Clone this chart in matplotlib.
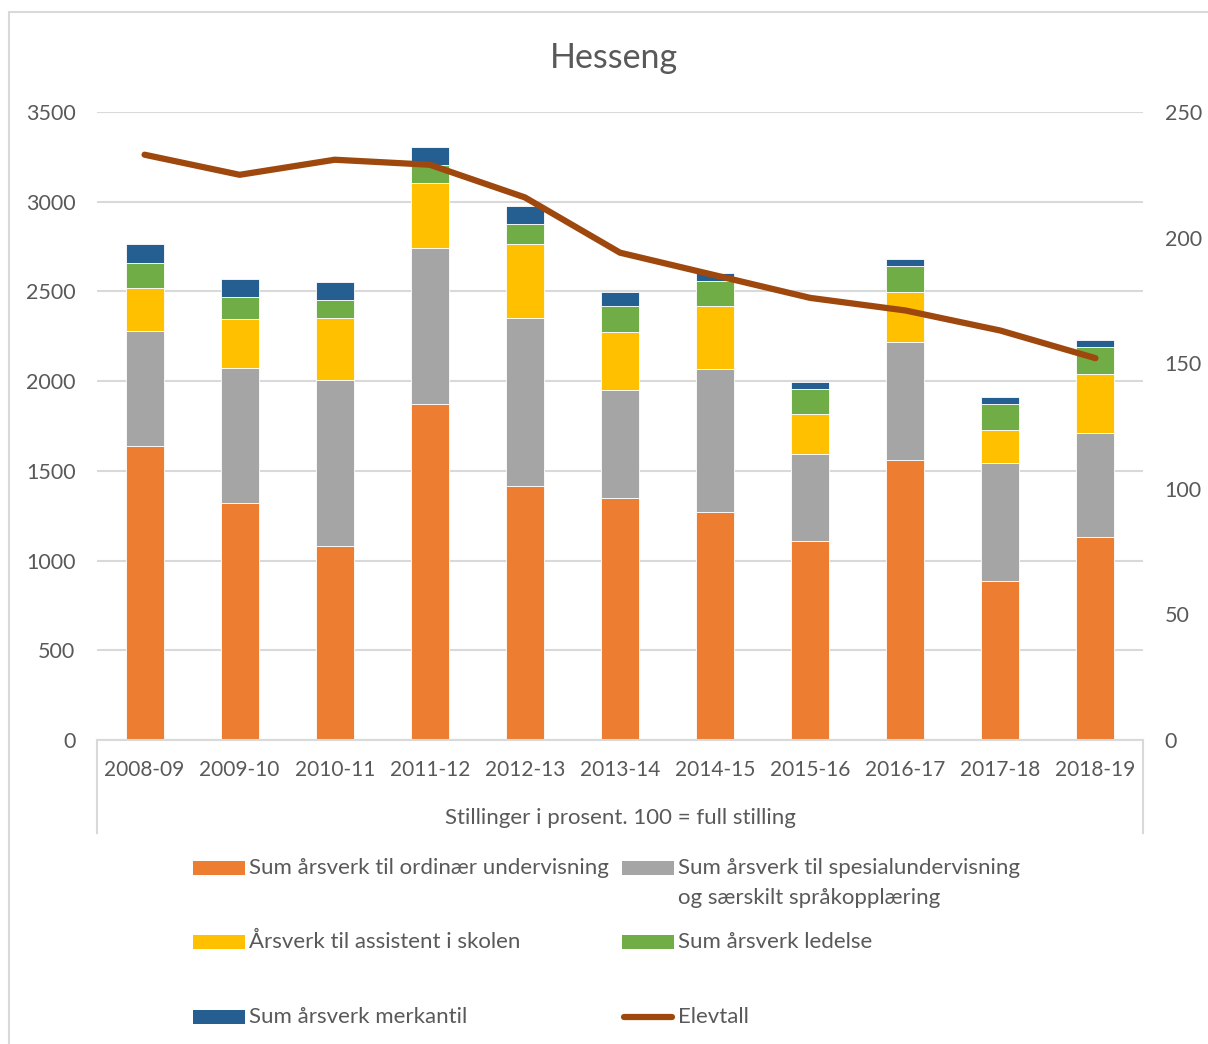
import matplotlib
matplotlib.use("Agg")
import matplotlib.pyplot as plt
from matplotlib.patches import Rectangle
from matplotlib.lines import Line2D
import numpy as np

plt.rcParams['font.family'] = ['Lato', 'DejaVu Sans']

years = ["2008-09", "2009-10", "2010-11", "2011-12", "2012-13", "2013-14",
         "2014-15", "2015-16", "2016-17", "2017-18", "2018-19"]
ordinaer = [1640, 1319, 1083, 1871, 1417, 1350, 1273, 1109, 1562, 886, 1133]
spesial = [641, 752, 925, 869, 933, 599, 793, 487, 658, 658, 576]
assistent = [240, 275, 344, 362, 412, 323, 351, 221, 279, 184, 331]
ledelse = [139, 123, 100, 101, 114, 149, 141, 139, 143, 145, 150]
merkantil = [103, 98, 101, 100, 100, 74, 47, 39, 39, 39, 39]
elevtall = [233, 225, 231, 229, 216, 194, 185, 176, 171, 163, 152]

series_labels = ["Sum årsverk til ordinær undervisning",
                 "Sum årsverk til spesialundervisning\nog særskilt språkopplæring",
                 "Årsverk til assistent i skolen",
                 "Sum årsverk ledelse",
                 "Sum årsverk merkantil"]
line_label = "Elevtall"
title = "Hesseng"
xlabel = "Stillinger i prosent. 100 = full stilling"

colors = ["#ED7D31", "#A5A5A5", "#FFC000", "#70AD47", "#255E91"]
line_color = "#9E480E"
text_color = "#595959"
grid_color = "#D9D9D9"

W, H = 1208, 1044
fig = plt.figure(figsize=(W / 100, H / 100), dpi=100)

def fx(px):
    return px / W

def fy(py):
    return 1 - py / H

# outer chart border
fig.add_artist(Rectangle((fx(9), fy(1060)), fx(1220) - fx(9), fy(12) - fy(1060),
                         transform=fig.transFigure, fill=False,
                         edgecolor=grid_color, linewidth=1.5))

ax = fig.add_axes([fx(97), fy(740), fx(1143) - fx(97), fy(112) - fy(740)])
x = np.arange(len(years))
bottom = np.zeros(len(years))
for vals, col, lab in zip([ordinaer, spesial, assistent, ledelse, merkantil], colors, series_labels):
    ax.bar(x, vals, width=0.4, bottom=bottom, color=col, edgecolor="white",
           linewidth=0.6, label=lab, zorder=2)
    bottom += np.array(vals)

ax.set_xlim(-0.5, len(years) - 0.5)
ax.set_ylim(0, 3500)
ax.set_yticks(np.arange(0, 3501, 500))
ax.yaxis.grid(True, color=grid_color, linewidth=1.5, zorder=0)
ax.set_axisbelow(True)
for s in ["top", "right", "left"]:
    ax.spines[s].set_visible(False)
ax.spines["bottom"].set_color(grid_color)
ax.spines["bottom"].set_linewidth(1.5)
ax.tick_params(axis="y", length=0, pad=15.5, labelsize=15.5, labelcolor=text_color)
ax.tick_params(axis="x", length=0, pad=14.5, labelsize=15, labelcolor=text_color)
ax.set_xticks(x)
ax.set_xticklabels(years)

ax2 = ax.twinx()
ax2.plot(x, elevtall, color=line_color, linewidth=4.5, solid_capstyle="round",
         solid_joinstyle="round", zorder=3)
ax2.set_ylim(0, 250)
ax2.set_yticks(np.arange(0, 251, 50))
for s in ["top", "right", "left", "bottom"]:
    ax2.spines[s].set_visible(False)
ax2.tick_params(axis="y", length=0, pad=15.5, labelsize=15.5, labelcolor=text_color)

# multi-level category frame
fig.add_artist(Line2D([fx(97), fx(97)], [fy(740), fy(833)], transform=fig.transFigure,
                      color=grid_color, linewidth=1.5))
fig.add_artist(Line2D([fx(1143), fx(1143)], [fy(740), fy(833)], transform=fig.transFigure,
                      color=grid_color, linewidth=1.5))
fig.text(fx(620), fy(818), xlabel, ha="center", va="center", fontsize=16, color=text_color)

fig.text(fx(614), fy(58), title, ha="center", va="center", fontsize=24.5, color=text_color)

# legend
leg_items = [
    (193, 868, colors[0], series_labels[0]),
    (622, 868, colors[1], series_labels[1]),
    (193, 942, colors[2], series_labels[2]),
    (622, 942, colors[3], series_labels[3]),
    (193, 1017, colors[4], series_labels[4]),
]
for px, py, col, lab in leg_items:
    fig.add_artist(Rectangle((fx(px), fy(py + 7)), fx(52), 14 / H,
                             transform=fig.transFigure, color=col, linewidth=0))
    lines = lab.split("\n")
    for i, ln in enumerate(lines):
        fig.text(fx(px + 56), fy(py + i * 30), ln, ha="left", va="center",
                 fontsize=16, color=text_color)
fig.add_artist(Line2D([fx(624), fx(672)], [fy(1017), fy(1017)], transform=fig.transFigure,
                      color=line_color, linewidth=4.5, solid_capstyle="round"))
fig.text(fx(678), fy(1017), line_label, ha="left", va="center", fontsize=16, color=text_color)

fig.savefig("out.png", dpi=100)
